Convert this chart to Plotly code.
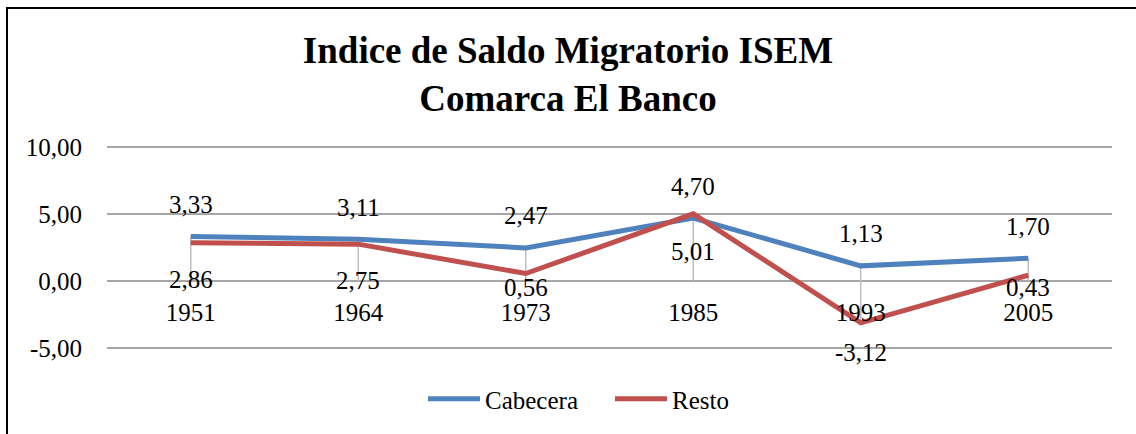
import plotly.graph_objects as go

# Census years and migration balance index (ISEM) per zone
years = ["1951", "1964", "1973", "1985", "1993", "2005"]
cabecera = [3.33, 3.11, 2.47, 4.70, 1.13, 1.70]
resto = [2.86, 2.75, 0.56, 5.01, -3.12, 0.43]

y_ticks = [-5, 0, 5, 10]

BLUE = "#4F81BD"
RED = "#C0504D"
FONT = "Liberation Serif, Times New Roman, serif"

# Vertical pixel nudges for the "Resto" value labels (below each point)
resto_label_shift = [-37, -36, -14, -38, -30, -12]


def fmt(v):
    return f"{v:.2f}".replace(".", ",")


fig = go.Figure()

# Drop lines from the highest value at each year down to the axis / lowest value
for i, yr in enumerate(years):
    hi = max(cabecera[i], resto[i], 0)
    lo = min(cabecera[i], resto[i], 0)
    fig.add_trace(go.Scatter(
        x=[yr, yr], y=[hi, lo], mode="lines",
        line=dict(color="#BFBFBF", width=1.5),
        showlegend=False, hoverinfo="skip",
    ))

fig.add_trace(go.Scatter(
    x=years, y=cabecera, mode="lines", name="Cabecera",
    line=dict(color=BLUE, width=5),
))
fig.add_trace(go.Scatter(
    x=years, y=resto, mode="lines", name="Resto",
    line=dict(color=RED, width=5),
))

label_font = dict(family=FONT, size=25, color="black")
annotations = []
for i in range(len(years)):
    # category index keeps the label on its year (not the numeric 1951 etc.)
    annotations.append(dict(
        x=i, y=cabecera[i], xref="x", yref="y", text=fmt(cabecera[i]),
        showarrow=False, yshift=32, font=label_font,
    ))
    annotations.append(dict(
        x=i, y=resto[i], xref="x", yref="y", text=fmt(resto[i]),
        showarrow=False, yshift=resto_label_shift[i], font=label_font,
    ))

W, H = 1136, 434
plot_top, plot_bottom = 147, 348          # pixel rows of the 10 and -5 gridlines
plot_left, plot_right = 107, 1112
y_lo, y_hi = -5, 10
px_per_unit = (plot_bottom - plot_top) / (y_hi - y_lo)
pad = 3                                    # keep edge gridlines inside the plot
eps = pad / px_per_unit
zero_px = plot_bottom - (0 - y_lo) * px_per_unit

fig.update_layout(
    width=W, height=H,
    margin=dict(l=0, r=0, t=0, b=0, autoexpand=False),
    paper_bgcolor="white", plot_bgcolor="white",
    font=dict(family=FONT, size=25, color="black"),
    title=dict(
        text="<b>Indice de Saldo Migratorio ISEM<br>Comarca El Banco</b>",
        x=0.5, xanchor="center", y=1 - 63 / H, yanchor="middle",
        font=dict(family=FONT, size=37, color="black"),
    ),
    xaxis=dict(
        type="category", range=[-0.5, 5.5],
        domain=[plot_left / W, plot_right / W],
        anchor="free", position=1 - zero_px / H,
        showgrid=False, zeroline=False, showline=False,
        ticks="", ticklabelstandoff=14,
        tickfont=label_font,
    ),
    yaxis=dict(
        range=[y_lo - eps, y_hi + eps],
        domain=[1 - (plot_bottom + pad) / H, 1 - (plot_top - pad) / H],
        tickvals=y_ticks, ticktext=[fmt(v) for v in y_ticks],
        showgrid=True, gridcolor="#A6A6A6", gridwidth=1.5,
        zeroline=False, showline=False, ticks="", ticklabelstandoff=24,
        tickfont=label_font,
    ),
    legend=dict(
        orientation="h", x=423 / W, xanchor="left", y=1 - 399 / H, yanchor="middle",
        font=label_font, itemwidth=52, entrywidth=120, tracegroupgap=0,
    ),
    annotations=annotations,
    shapes=[dict(
        type="rect", xref="paper", yref="paper",
        x0=7 / W, x1=1.02, y0=-0.05, y1=1 - 8 / H,
        line=dict(color="black", width=2), layer="above",
    )],
)

fig.write_html("out.html")
